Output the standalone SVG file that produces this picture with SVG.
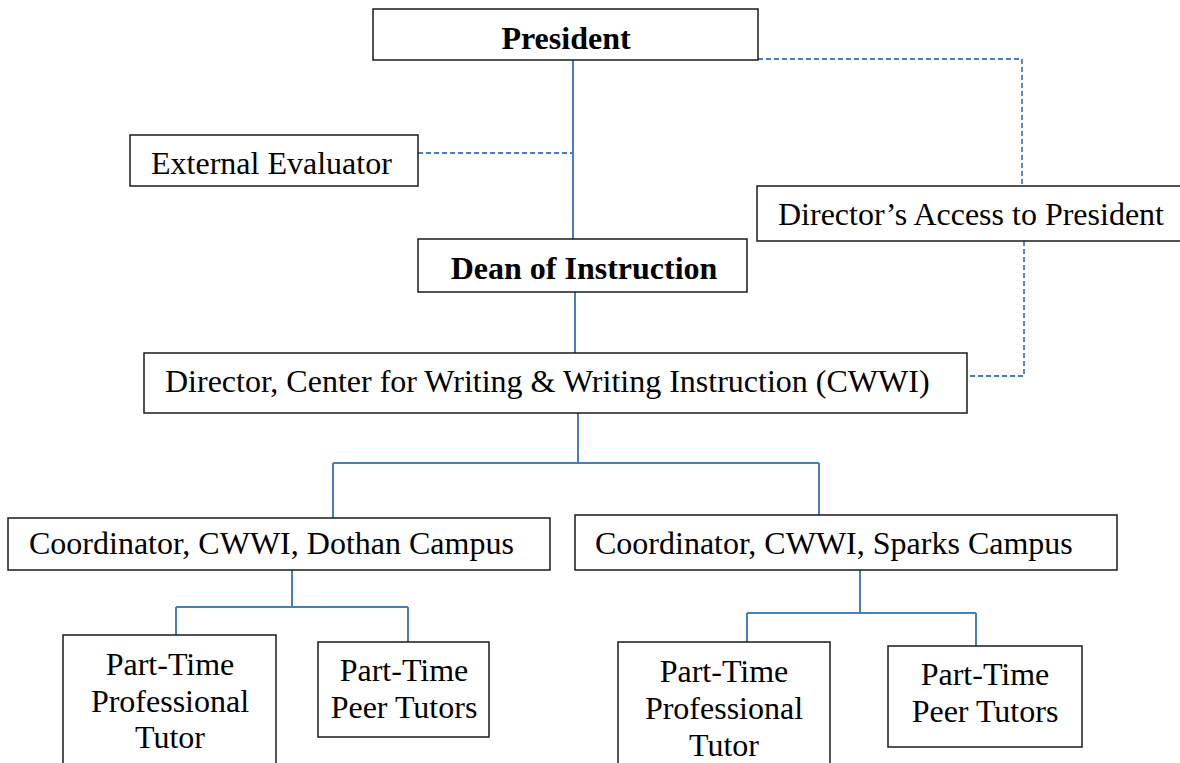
<svg xmlns="http://www.w3.org/2000/svg" width="1180" height="763" viewBox="0 0 1180 763">
<style>
.box{fill:#fff;stroke:#1a1a1a;stroke-width:1.5}
.t{font-family:"Liberation Serif","Times New Roman",serif;font-size:32px;fill:#000}
.b{font-weight:bold}
.c{text-anchor:middle}
.solid{fill:none;stroke:#4a7ebb;stroke-width:2}
.dash{fill:none;stroke:#4a7ebb;stroke-width:1.8;stroke-dasharray:5 3}
</style>
<rect width="1180" height="763" fill="#fff"/>
<g id="connectors">
<path class="solid" d="M573 60V239"/>
<path class="solid" d="M575 292V353"/>
<path class="solid" d="M578 413V463M333 463H819M333 463V518M819 463V515"/>
<path class="solid" d="M292 570V607M176 607H408M176 607V635M408 607V642"/>
<path class="solid" d="M860 570V613M747 613H976M747 613V642M976 613V646"/>
<path class="dash" d="M758 59H1022V186"/>
<path class="dash" d="M418 153H573"/>
<path class="dash" d="M1024 241V376H967"/>
</g>
<g id="president">
<rect class="box" x="373" y="9" width="385" height="51"/>
<text class="t b c" x="566" y="49">President</text>
</g>
<g id="external-evaluator">
<rect class="box" x="130" y="135" width="288" height="51"/>
<text class="t" x="151" y="174">External Evaluator</text>
</g>
<g id="directors-access">
<rect class="box" x="757" y="186" width="424" height="55"/>
<text class="t" x="778" y="225">Director’s Access to President</text>
</g>
<g id="dean">
<rect class="box" x="418" y="239" width="329" height="53"/>
<text class="t b c" x="584" y="279">Dean of Instruction</text>
</g>
<g id="director">
<rect class="box" x="144" y="353" width="823" height="60"/>
<text class="t" x="165" y="392">Director, Center for Writing &amp; Writing Instruction (CWWI)</text>
</g>
<g id="coord-dothan">
<rect class="box" x="8" y="518" width="542" height="52"/>
<text class="t" x="29" y="554">Coordinator, CWWI, Dothan Campus</text>
</g>
<g id="coord-sparks">
<rect class="box" x="575" y="515" width="542" height="55"/>
<text class="t" x="595" y="554">Coordinator, CWWI, Sparks Campus</text>
</g>
<g id="dothan-prof">
<rect class="box" x="63" y="635" width="213" height="140"/>
<text class="t c" x="170" y="675">Part-Time</text>
<text class="t c" x="170" y="712">Professional</text>
<text class="t c" x="170" y="748">Tutor</text>
</g>
<g id="dothan-peer">
<rect class="box" x="318" y="642" width="171" height="95"/>
<text class="t c" x="404" y="681">Part-Time</text>
<text class="t c" x="404" y="718">Peer Tutors</text>
</g>
<g id="sparks-prof">
<rect class="box" x="618" y="642" width="212" height="140"/>
<text class="t c" x="724" y="682">Part-Time</text>
<text class="t c" x="724" y="719">Professional</text>
<text class="t c" x="724" y="756">Tutor</text>
</g>
<g id="sparks-peer">
<rect class="box" x="888" y="646" width="194" height="101"/>
<text class="t c" x="985" y="685">Part-Time</text>
<text class="t c" x="985" y="722">Peer Tutors</text>
</g>
</svg>
